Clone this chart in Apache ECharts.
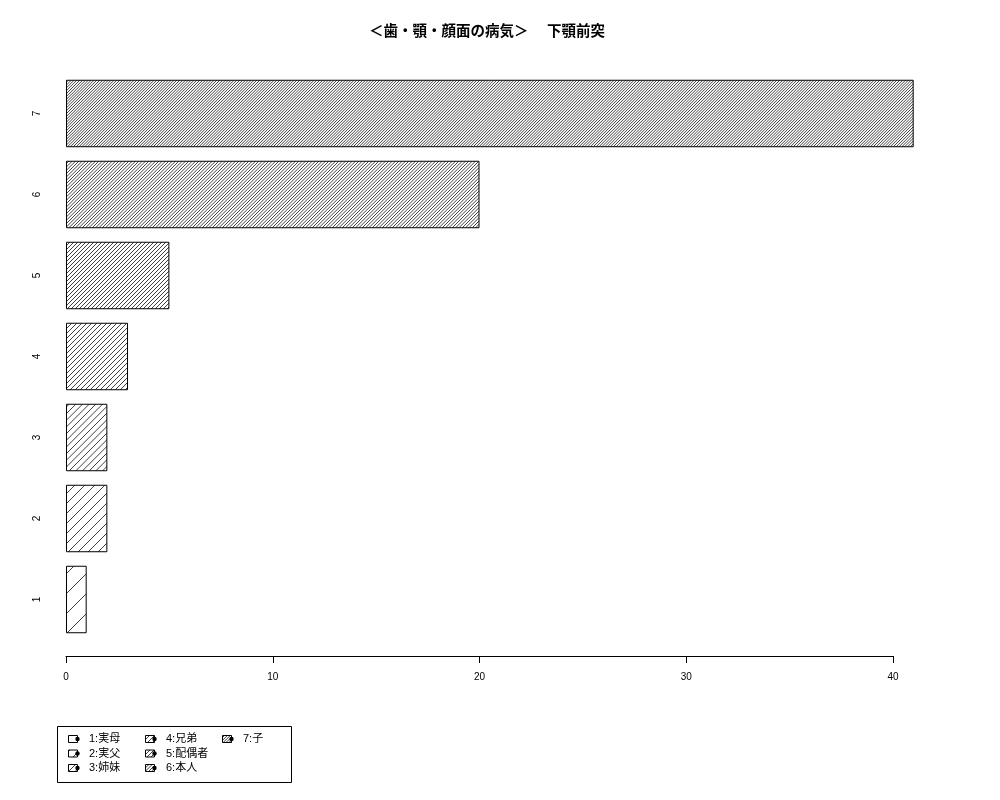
<!DOCTYPE html>
<html><head><meta charset="utf-8">
<script src="https://cdn.jsdelivr.net/npm/echarts@6/dist/echarts.min.js"></script>
<style>html,body{margin:0;padding:0;background:#fff}#c{width:1000px;height:800px}</style>
</head><body><div id="c"></div>
<script>
const titleText = '＜歯・顎・顔面の病気＞　 下顎前突';
const categories = ['1', '2', '3', '4', '5', '6', '7'];
const values = [1, 2, 2, 3, 5, 20, 41];
const legendLabels = ['1:実母', '2:実父', '3:姉妹', '4:兄弟', '5:配偶者', '6:本人', '7:子'];
const xMin = 0, xMax = 40, xInterval = 10;

const FONT = '"Liberation Sans", "Noto Sans CJK JP", sans-serif';

function hatch(k, size) {
  const c = document.createElement('canvas');
  c.width = size; c.height = size;
  const ctx = c.getContext('2d');
  ctx.fillStyle = '#fff';
  ctx.fillRect(0, 0, size, size);
  ctx.strokeStyle = '#111';
  ctx.lineWidth = 0.8;
  const s = size / k;
  for (let m = -k; m <= 2 * k; m++) {
    const cc = m * s;
    ctx.beginPath();
    ctx.moveTo(cc + 5, -5);
    ctx.lineTo(cc - size - 5, size + 5);
    ctx.stroke();
  }
  return c;
}

const barData = values.map((v, i) => ({
  value: v,
  itemStyle: { color: { image: hatch(i + 1, 20), repeat: 'repeat' }, borderColor: '#000', borderWidth: 1 }
}));

// legend graphics
const legendGraphics = [{
  type: 'rect', shape: { x: 57.5, y: 726.5, width: 234, height: 56 },
  style: { fill: 'none', stroke: '#000', lineWidth: 1 }
}];
const colX = [68, 145, 222];
const rowY = [739, 753.5, 768];
legendLabels.forEach((lab, i) => {
  const col = Math.floor(i / 3), row = i % 3;
  const x = colX[col], y = rowY[row];
  legendGraphics.push({
    type: 'rect', shape: { x: x + 0.5, y: y - 3.5, width: 9, height: 7 },
    style: { fill: { image: hatch(i + 1, 20), repeat: 'repeat' }, stroke: '#000', lineWidth: 1 }
  });
  legendGraphics.push({
    type: 'circle', shape: { cx: x + 9.5, cy: y, r: 2.2 },
    style: { fill: '#000' }
  });
  legendGraphics.push({
    type: 'text', x: x + 21, y: y,
    style: { text: lab, font: '11px ' + FONT, fill: '#000', textVerticalAlign: 'middle', verticalAlign: 'middle' }
  });
});

const chart = echarts.init(document.getElementById('c'), null, { renderer: 'canvas' });
chart.setOption({
  backgroundColor: '#fff',
  animation: false,
  title: {
    text: titleText, left: 482, top: 20, textAlign: 'center',
    textStyle: { fontSize: 14.5, fontWeight: 'bold', color: '#000', fontFamily: FONT }
  },
  grid: { left: 66, right: 107, top: 73, bottom: 160, containLabel: false },
  xAxis: {
    type: 'value', min: xMin, max: xMax, interval: xInterval, offset: 16,
    axisLine: { show: true, lineStyle: { color: '#000', width: 1 } },
    axisTick: { show: true, length: 7, lineStyle: { color: '#000' } },
    axisLabel: { color: '#000', fontSize: 10, margin: 16, fontFamily: FONT },
    splitLine: { show: false }
  },
  yAxis: {
    type: 'category', data: categories,
    axisLine: { show: false }, axisTick: { show: false },
    axisLabel: { rotate: 90, color: '#000', fontSize: 10, margin: 24, fontFamily: FONT },
    splitLine: { show: false }
  },
  series: [{
    type: 'bar', data: barData, barCategoryGap: '16.67%', clip: false,
    silent: true
  }],
  graphic: legendGraphics
});
</script>
</body></html>
